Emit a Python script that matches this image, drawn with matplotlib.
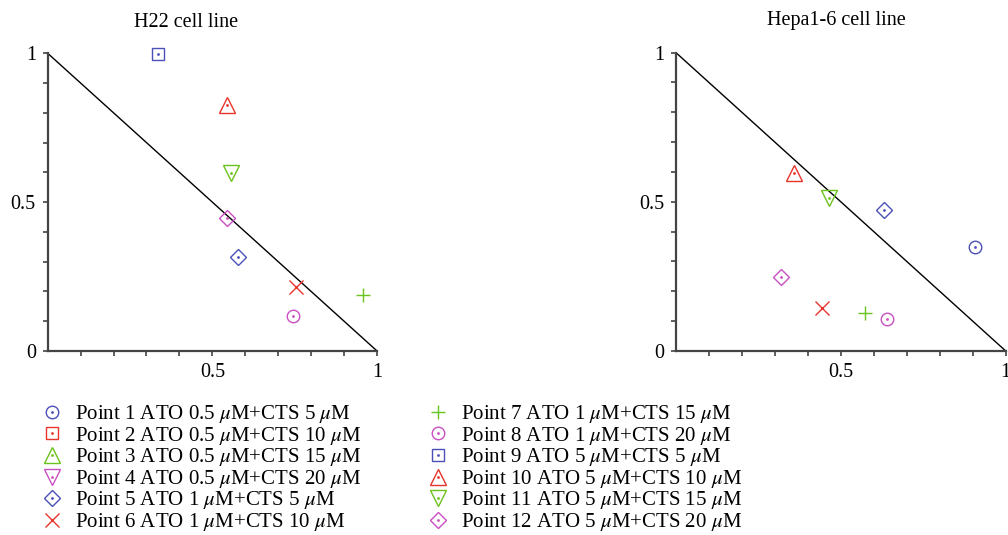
import numpy as np
import matplotlib
matplotlib.use("Agg")
import matplotlib.pyplot as plt
from matplotlib.lines import Line2D
from matplotlib.legend_handler import HandlerTuple

plt.rcParams['font.family'] = ['Liberation Serif', 'DejaVu Serif']
plt.rcParams['mathtext.fontset'] = 'stix'

# ---- data ----
labels = [
    "Point 1 ATO 0.5 $\\mu$M+CTS 5 $\\mu$M",
    "Point 2 ATO 0.5 $\\mu$M+CTS 10 $\\mu$M",
    "Point 3 ATO 0.5 $\\mu$M+CTS 15 $\\mu$M",
    "Point 4 ATO 0.5 $\\mu$M+CTS 20 $\\mu$M",
    "Point 5 ATO 1 $\\mu$M+CTS 5 $\\mu$M",
    "Point 6 ATO 1 $\\mu$M+CTS 10 $\\mu$M",
    "Point 7 ATO 1 $\\mu$M+CTS 15 $\\mu$M",
    "Point 8 ATO 1 $\\mu$M+CTS 20 $\\mu$M",
    "Point 9 ATO 5 $\\mu$M+CTS 5 $\\mu$M",
    "Point 10 ATO 5 $\\mu$M+CTS 10 $\\mu$M",
    "Point 11 ATO 5 $\\mu$M+CTS 15 $\\mu$M",
    "Point 12 ATO 5 $\\mu$M+CTS 20 $\\mu$M",
]
nan = np.nan
h22_x = [nan, nan, nan, nan, 0.579, 0.754, 0.958, 0.746, 0.336, 0.544, 0.556, 0.545]
h22_y = [nan, nan, nan, nan, 0.316, 0.216, 0.189, 0.118, 0.997, 0.826, 0.597, 0.448]
hepa_x = [0.907, nan, nan, nan, 0.631, 0.442, 0.573, 0.641, nan, 0.357, 0.465, 0.319]
hepa_y = [0.350, nan, nan, nan, 0.473, 0.143, 0.128, 0.106, nan, 0.596, 0.514, 0.247]

# ---- styles ----
BLUE, RED, GREEN, MAG = '#4b50b8', '#e8352b', '#6cc21c', '#c94fc2'
colors = [BLUE, RED, GREEN, MAG, BLUE, RED, GREEN, MAG, BLUE, RED, GREEN, MAG]
markers = ['o', 's', '^', 'v', 'D', 'x', '+', 'o', 's', '^', 'v', 'D']
sizes = {'o': 9, 's': 9, '^': 11, 'v': 11, 'D': 8, 'x': 9.5, '+': 10.5}
dotted = [m not in ('x', '+') for m in markers]
DOT = 2.0


def draw_point(ax, x, y, i):
    m = markers[i]
    ax.plot([x], [y], linestyle='none', marker=m, ms=sizes[m], mfc='none',
            mec=colors[i], mew=1.0, clip_on=False, zorder=3)
    if dotted[i]:
        ax.plot([x], [y], linestyle='none', marker='o', ms=DOT, mfc=colors[i],
                mec=colors[i], mew=0, clip_on=False, zorder=3)


fig = plt.figure(figsize=(10.08, 5.35), dpi=100)
ax1 = fig.add_axes([0.0473, 0.344, 0.3267, 0.5564])
ax2 = fig.add_axes([0.6706, 0.344, 0.3271, 0.5576])

for ax, xs, ys, title, tx, tpad in [(ax1, h22_x, h22_y, 'H22 cell line', 0.42, 19),
                                    (ax2, hepa_x, hepa_y, 'Hepa1-6 cell line', 0.488, 20)]:
    ax.plot([0, 1], [1, 0], color='black', lw=1.0, zorder=2)
    for i in range(len(labels)):
        if not np.isnan(xs[i]):
            draw_point(ax, xs[i], ys[i], i)
    ax.set_xlim(0, 1)
    ax.set_ylim(0, 1)
    for s in ['top', 'right']:
        ax.spines[s].set_visible(False)
    for s in ['left', 'bottom']:
        ax.spines[s].set_color('#444444')
        ax.spines[s].set_linewidth(1.6)
    ax.set_xticks([0.5, 1.0])
    ax.set_xticklabels(['0.5', '1'])
    ax.set_yticks([0, 0.5, 1.0])
    ax.set_yticklabels(['0', '0.5', '1'])
    ax.set_xticks(np.arange(1, 10) / 10, minor=True)
    ax.set_yticks(np.arange(1, 10) / 10, minor=True)
    ax.tick_params(which='both', direction='out', length=3.5, width=1.2,
                   color='#444444', labelsize=14.5, pad=5)
    ax.set_title(title, fontsize=14.5, pad=tpad, x=tx)

# ---- legend ----
handles = []
for i in range(len(labels)):
    m = markers[i]
    h = Line2D([], [], linestyle='none', marker=m, ms=sizes[m], mfc='none',
               mec=colors[i], mew=1.0)
    if dotted[i]:
        d = Line2D([], [], linestyle='none', marker='o', ms=DOT, mfc=colors[i],
                   mec=colors[i], mew=0)
        handles.append((h, d))
    else:
        handles.append(h)

leg_kw = dict(frameon=False, fontsize=15, labelspacing=-0.02, handletextpad=0.5,
              handlelength=1.2, borderaxespad=0, loc='upper left',
              handler_map={tuple: HandlerTuple(ndivide=1, pad=0)})
fig.legend(handles[:6], labels[:6], bbox_to_anchor=(0.031, 0.262), **leg_kw)
fig.legend(handles[6:], labels[6:], bbox_to_anchor=(0.414, 0.262), **leg_kw)

fig.savefig('out.png', dpi=100)
